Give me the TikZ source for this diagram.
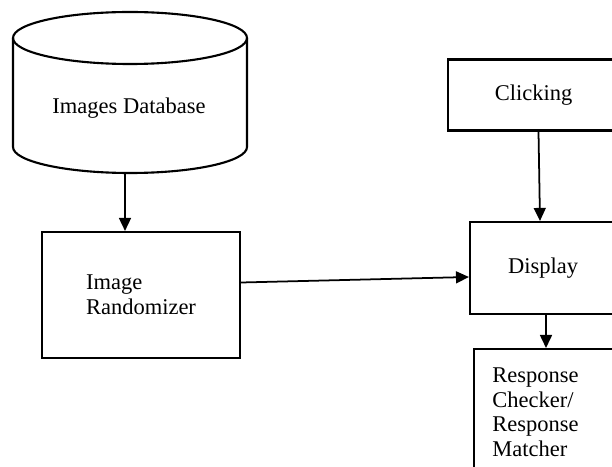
\documentclass[tikz,border=0pt]{standalone}
\usepackage{fontspec}
\setmainfont{Liberation Serif}
\usetikzlibrary{arrows.meta}

\begin{document}
\begin{tikzpicture}[
  box/.style={draw, line width=1.2pt, inner sep=0pt},
  arr/.style={-{Triangle[length=7.4pt,width=6.8pt]}, line width=1pt},
  font=\fontsize{12.8}{14.2}\selectfont]
\useasboundingbox (0,0) rectangle (12.24,9.32);
\clip (0,0) rectangle (12.24,9.32);
% database
\draw[line width=1.2pt] (2.6,8.56) ellipse (2.34 and 0.52);
\draw[line width=1.2pt] (0.26,8.56) -- (0.26,6.38) arc (180:360:2.34 and 0.52) -- (4.94,8.56);
\node (db) at (2.58,7.16) {Images Database};
\coordinate (dbout) at (2.5,5.86);
% boxes
\node[box, align=left, minimum width=3.96cm, minimum height=2.52cm] (rand) at (2.82,3.42) {Image\\Randomizer};
\node[box, minimum width=3.42cm, minimum height=1.42cm] (click) at (10.67,7.42) {Clicking};
\node[box, minimum width=2.92cm, minimum height=1.84cm] (disp) at (10.86,3.96) {Display};
\node[box, anchor=north west, minimum width=3.2cm, minimum height=3.2cm] (resp) at (9.46,2.36) {};
\node[anchor=north west, inner sep=0pt, align=left]
  (resptext) at ([shift={(0.38,-0.38)}]resp.north west) {Response\\Checker/\\Response\\Matcher};
% arrows
\draw[arr] (dbout) -- (dbout |- rand.north);
\draw[arr] ([yshift=0.25cm]rand.east) -- ([yshift=-0.18cm]disp.west);
\draw[arr] ([xshift=0.1cm]click.south) -- ([xshift=-0.06cm]disp.north);
\draw[arr] ([xshift=0.06cm]disp.south) -- ([xshift=0.06cm]disp.south |- resp.north);
\end{tikzpicture}
\end{document}
